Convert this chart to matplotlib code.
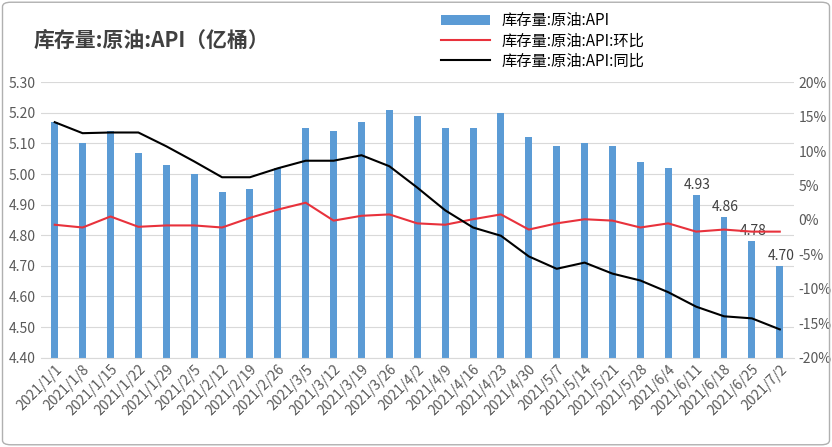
import matplotlib
matplotlib.use("Agg")
import matplotlib.pyplot as plt
from matplotlib.patches import FancyBboxPatch
from matplotlib.ticker import FuncFormatter

plt.rcParams['font.family'] = ['Noto Sans CJK SC', 'DejaVu Sans']

dates = ["2021/1/1","2021/1/8","2021/1/15","2021/1/22","2021/1/29","2021/2/5","2021/2/12",
         "2021/2/19","2021/2/26","2021/3/5","2021/3/12","2021/3/19","2021/3/26","2021/4/2",
         "2021/4/9","2021/4/16","2021/4/23","2021/4/30","2021/5/7","2021/5/14","2021/5/21",
         "2021/5/28","2021/6/4","2021/6/11","2021/6/18","2021/6/25","2021/7/2"]
stock = [5.17,5.10,5.14,5.07,5.03,5.00,4.94,4.95,5.02,5.15,5.14,5.17,5.21,5.19,5.15,5.15,5.20,
         5.12,5.09,5.10,5.09,5.04,5.02,4.93,4.86,4.78,4.70]
wow = [-0.7,-1.1,0.5,-1.0,-0.8,-0.8,-1.1,0.3,1.5,2.5,-0.1,0.6,0.8,-0.5,-0.7,0.1,0.8,-1.4,-0.5,
       0.1,-0.1,-1.1,-0.5,-1.7,-1.4,-1.7,-1.7]
yoy = [14.2,12.6,12.7,12.7,10.7,8.5,6.2,6.2,7.5,8.6,8.6,9.4,7.8,4.7,1.4,-1.1,-2.3,-5.3,-7.1,-6.2,
       -7.8,-8.8,-10.5,-12.6,-14.0,-14.3,-15.9]

fig = plt.figure(figsize=(8.32, 4.47), dpi=100)
fig.patches.append(FancyBboxPatch((0.003, 0.005), 0.994, 0.99, boxstyle="round,pad=0,rounding_size=0.01",
                                  transform=fig.transFigure, fill=False, edgecolor='#b0b0b0', lw=1))
ax = fig.add_axes([0.049, 0.2, 0.905, 0.616])
x = list(range(len(dates)))
bars = ax.bar(x, stock, width=0.25, color='#5b9bd5', label='库存量:原油:API', zorder=2)
ax.set_ylim(4.4, 5.3)
ax.set_yticks([4.4 + 0.1*i for i in range(10)])
ax.yaxis.set_major_formatter(FuncFormatter(lambda v, p: f"{v:.2f}"))
ax.set_xlim(-0.5, len(dates) - 0.5)
ax.grid(axis='y', color='#d9d9d9', lw=0.8, zorder=0)
ax.set_xticks(x)
ax.set_xticklabels(dates, rotation=45, ha='right', rotation_mode='anchor', fontsize=9, color='#595959')
for s in ax.spines.values():
    s.set_visible(False)
ax.spines['bottom'].set_visible(True)
ax.spines['bottom'].set_color('#d9d9d9')
ax.tick_params(length=0, labelsize=10, colors='#595959')
for i in range(len(dates) - 4, len(dates)):
    ax.text(x[i] + 0.05, stock[i] + 0.01, f"{stock[i]:.2f}", ha='center', va='bottom', fontsize=10, color='#404040', zorder=5)

ax2 = ax.twinx()
l1, = ax2.plot(x, wow, color='#e8323c', lw=1.5, label='库存量:原油:API:环比')
l2, = ax2.plot(x, yoy, color='black', lw=1.5, label='库存量:原油:API:同比')
ax2.set_ylim(-20, 20)
ax2.set_yticks(range(-20, 21, 5))
ax2.yaxis.set_major_formatter(FuncFormatter(lambda v, p: f"{int(v)}%"))
for s in ax2.spines.values():
    s.set_visible(False)
ax2.tick_params(length=0, labelsize=10, colors='#595959')

fig.text(0.04, 0.895, "库存量:原油:API（亿桶）", fontsize=15, fontweight='bold', color='#404040')
fig.legend([bars, l1, l2], [bars.get_label(), l1.get_label(), l2.get_label()], loc='upper left',
           bbox_to_anchor=(0.515, 1.0), frameon=False, fontsize=11, handlelength=3.2,
           labelspacing=0.2, borderpad=0.3)
fig.savefig("out.png", dpi=100)
